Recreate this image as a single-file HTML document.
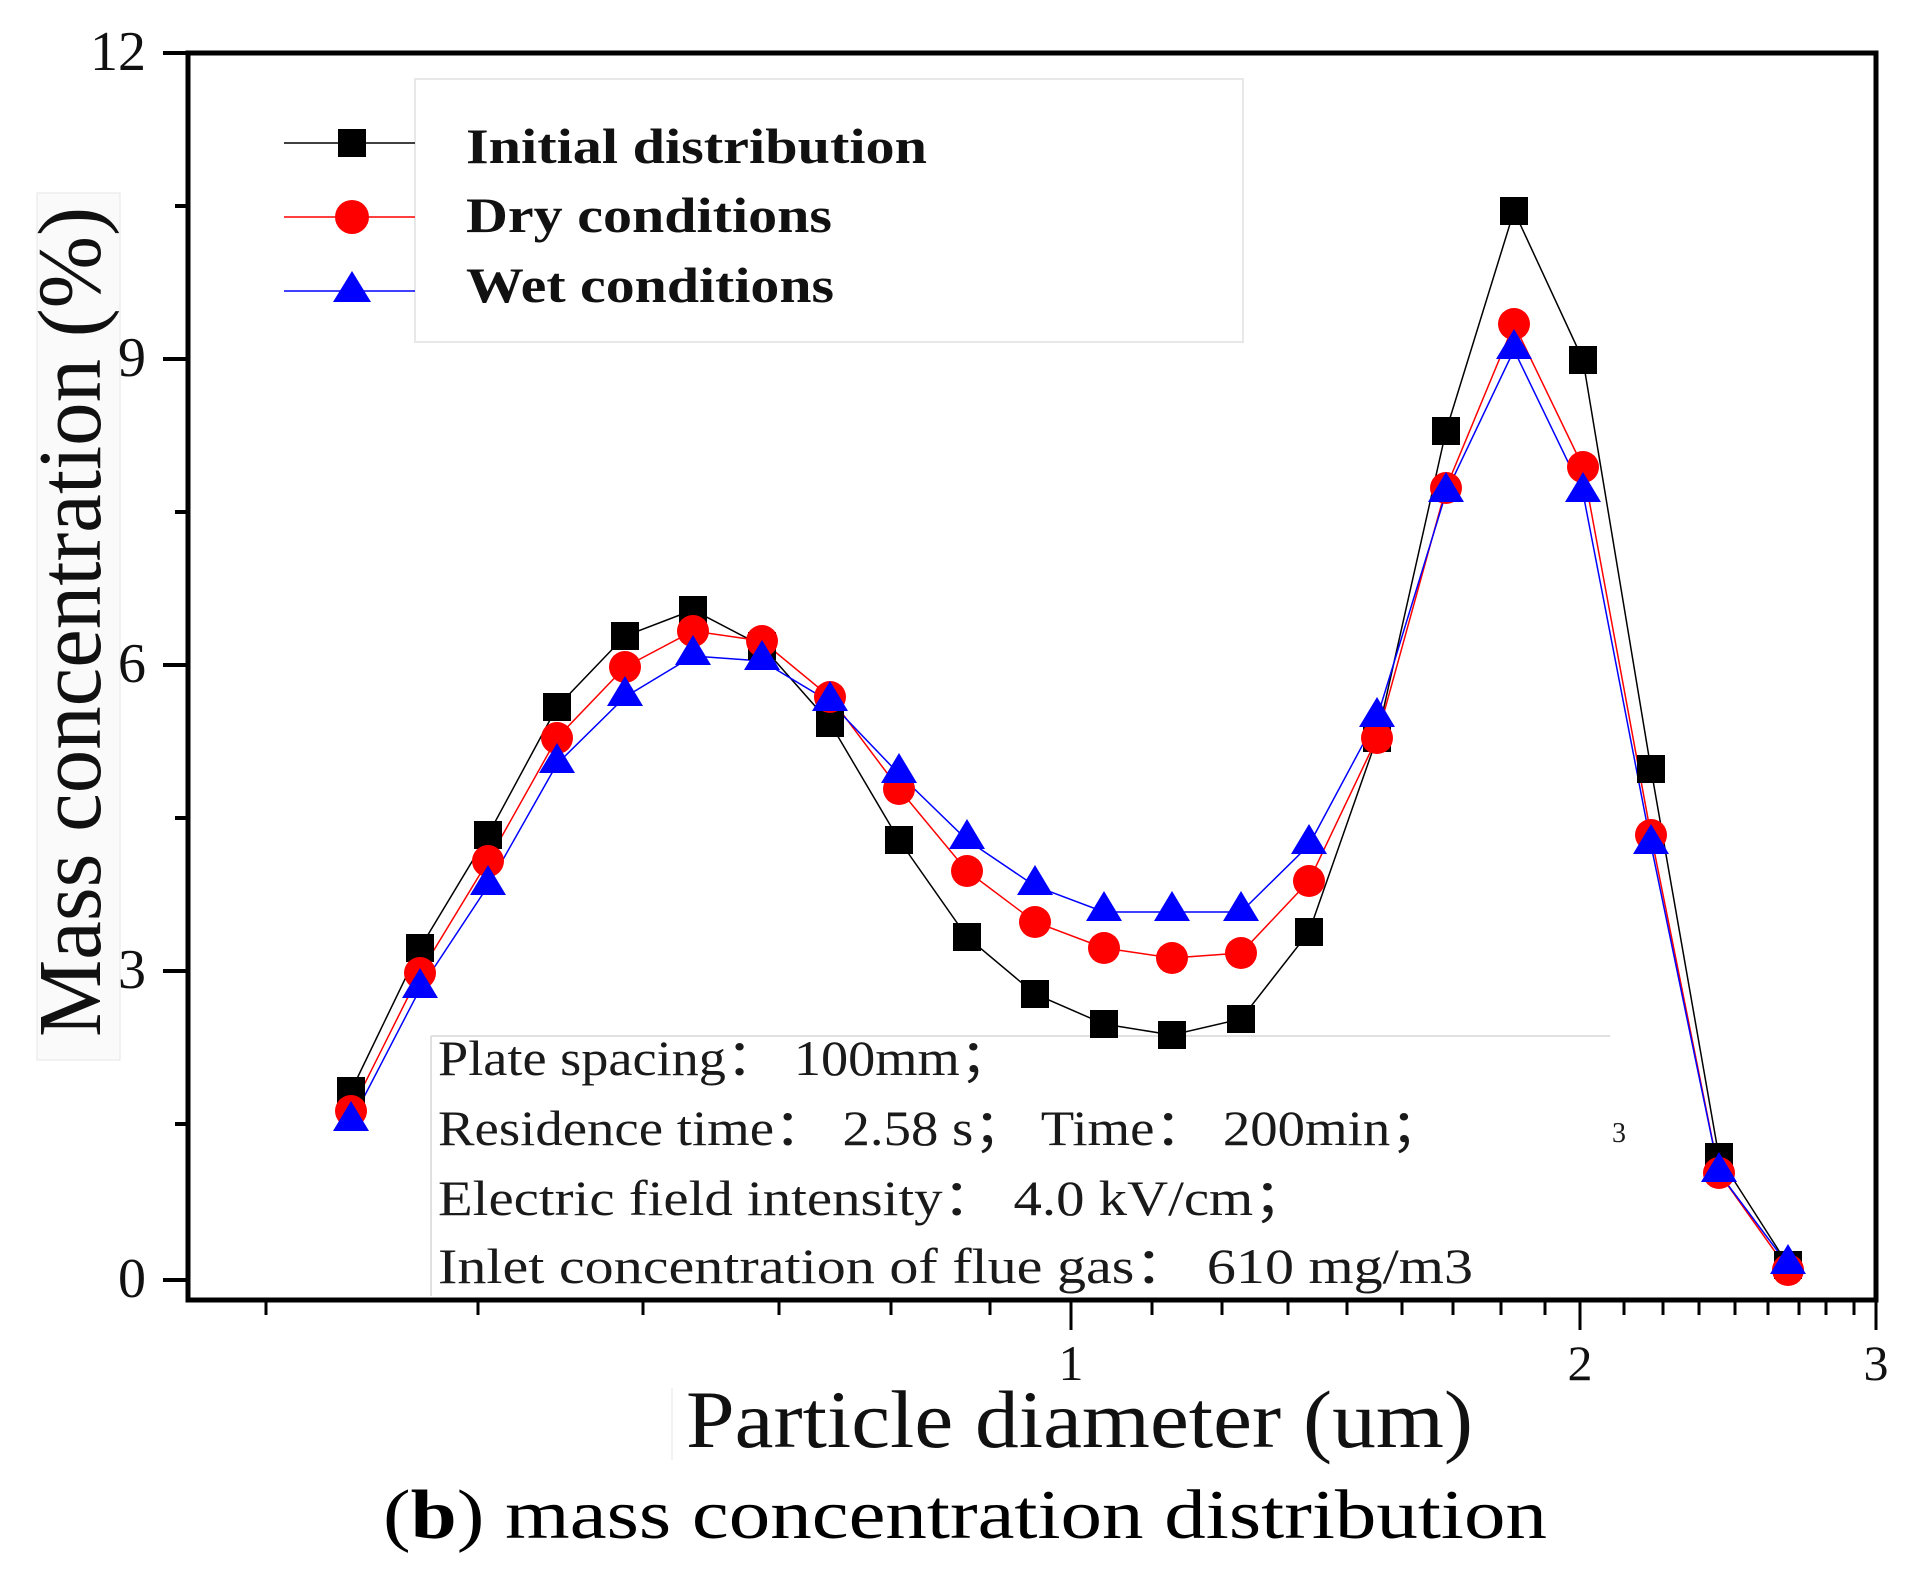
<!DOCTYPE html>
<html><head><meta charset="utf-8"><style>
html,body{margin:0;padding:0;background:#fff;}
svg{display:block;}
</style></head><body>
<svg width="1920" height="1586" viewBox="0 0 1920 1586" xmlns="http://www.w3.org/2000/svg" font-family="'Liberation Serif', serif">
<rect width="1920" height="1586" fill="#fff"/>
<rect x="37" y="193" width="83" height="867" fill="#fafafa" stroke="#e6e6e6" stroke-width="1"/>
<text transform="translate(100,622) rotate(-90)" font-size="90" text-anchor="middle" textLength="830" lengthAdjust="spacingAndGlyphs" fill="#111">Mass concentration (%)</text>
<rect x="188" y="53" width="1688" height="1247" fill="none" stroke="#000" stroke-width="5"/>
<g stroke="#000" stroke-width="4">
<line x1="163" y1="53" x2="188" y2="53"/><line x1="175" y1="206" x2="188" y2="206"/>
<line x1="163" y1="359" x2="188" y2="359"/><line x1="175" y1="512" x2="188" y2="512"/>
<line x1="163" y1="665" x2="188" y2="665"/><line x1="175" y1="818" x2="188" y2="818"/>
<line x1="163" y1="971" x2="188" y2="971"/><line x1="175" y1="1124" x2="188" y2="1124"/>
<line x1="163" y1="1280" x2="188" y2="1280"/>
</g>
<g font-size="56" text-anchor="end" fill="#111">
<text x="146" y="70">12</text><text x="146" y="376">9</text><text x="146" y="682">6</text><text x="146" y="988">3</text><text x="146" y="1297">0</text>
</g>
<g stroke="#000" stroke-width="3">
<line x1="266" y1="1300" x2="266" y2="1315"/><line x1="478" y1="1300" x2="478" y2="1315"/><line x1="643" y1="1300" x2="643" y2="1315"/><line x1="779" y1="1300" x2="779" y2="1315"/><line x1="891" y1="1300" x2="891" y2="1315"/><line x1="990" y1="1300" x2="990" y2="1315"/>
<line x1="1071" y1="1300" x2="1071" y2="1330"/>
<line x1="1152" y1="1300" x2="1152" y2="1315"/><line x1="1222" y1="1300" x2="1222" y2="1315"/><line x1="1288" y1="1300" x2="1288" y2="1315"/><line x1="1347" y1="1300" x2="1347" y2="1315"/><line x1="1402" y1="1300" x2="1402" y2="1315"/><line x1="1453" y1="1300" x2="1453" y2="1315"/><line x1="1501" y1="1300" x2="1501" y2="1315"/><line x1="1545" y1="1300" x2="1545" y2="1315"/>
<line x1="1580" y1="1300" x2="1580" y2="1330"/>
<line x1="1624" y1="1300" x2="1624" y2="1315"/><line x1="1663" y1="1300" x2="1663" y2="1315"/><line x1="1699" y1="1300" x2="1699" y2="1315"/><line x1="1735" y1="1300" x2="1735" y2="1315"/><line x1="1768" y1="1300" x2="1768" y2="1315"/><line x1="1799" y1="1300" x2="1799" y2="1315"/><line x1="1826" y1="1300" x2="1826" y2="1315"/><line x1="1854" y1="1300" x2="1854" y2="1315"/>
<line x1="1876" y1="1300" x2="1876" y2="1330"/>
</g>
<g font-size="50" text-anchor="middle" fill="#111">
<text x="1071" y="1380">1</text><text x="1580" y="1380">2</text><text x="1876" y="1380">3</text>
</g>
<line x1="672" y1="1388" x2="672" y2="1460" stroke="#e6e6e6" stroke-width="1"/>
<text x="686" y="1447" font-size="82" textLength="787" lengthAdjust="spacingAndGlyphs" fill="#111">Particle  diameter (um)</text>
<text x="383" y="1538" font-size="70" textLength="1164" lengthAdjust="spacingAndGlyphs" fill="#000">(<tspan font-weight="bold">b</tspan>) mass concentration distribution</text>
<rect x="415" y="79" width="828" height="263" fill="#fff" stroke="#e8e8e8" stroke-width="2"/>
<line x1="284" y1="143" x2="415" y2="143" stroke="#000" stroke-width="1.5"/>
<rect x="338" y="129" width="28" height="28" fill="#000"/>
<line x1="284" y1="217" x2="415" y2="217" stroke="#f00" stroke-width="1.5"/>
<circle cx="352" cy="217" r="17" fill="#f00"/>
<line x1="284" y1="291" x2="415" y2="291" stroke="#00f" stroke-width="1.5"/>
<polygon points="352,271 371,302 333,302" fill="#00f"/>
<g font-size="50" font-weight="bold" fill="#111">
<text x="466" y="163" textLength="461" lengthAdjust="spacingAndGlyphs">Initial distribution</text>
<text x="466" y="232" textLength="366" lengthAdjust="spacingAndGlyphs">Dry conditions</text>
<text x="466" y="302" textLength="368" lengthAdjust="spacingAndGlyphs">Wet conditions</text>
</g>
<line x1="431" y1="1036" x2="1610" y2="1036" stroke="#e0e0e0" stroke-width="2"/>
<line x1="431" y1="1036" x2="431" y2="1296" stroke="#e0e0e0" stroke-width="2"/>
<g font-size="50" fill="#1a1a1a">
<text x="438" y="1075" textLength="576" lengthAdjust="spacingAndGlyphs">Plate spacing：  100mm；</text>
<text x="438" y="1145" textLength="1007" lengthAdjust="spacingAndGlyphs">Residence time：  2.58 s；  Time：  200min；</text>
<text x="438" y="1215" textLength="872" lengthAdjust="spacingAndGlyphs">Electric field intensity：  4.0 kV/cm；</text>
<text x="438" y="1283" textLength="1035" lengthAdjust="spacingAndGlyphs">Inlet concentration of flue gas：  610 mg/m3</text>
<text x="1612" y="1142" font-size="28">3</text>
</g>
<polyline fill="none" stroke="#000" stroke-width="1.5" points="351,1091 420,948 488,835 557,707 625,636 693,610 762,646 830,723 899,840 967,937 1035,994 1104,1024 1172,1035 1241,1019 1309,932 1377,738 1446,431 1514,211 1583,360 1651,769 1719,1157 1788,1265"/>
<polyline fill="none" stroke="#f00" stroke-width="1.5" points="351,1111 420,973 488,861 557,738 625,667 693,631 762,641 830,697 899,789 967,871 1035,922 1104,948 1172,958 1241,953 1309,881 1377,738 1446,488 1514,324 1583,467 1651,835 1719,1173 1788,1270"/>
<polyline fill="none" stroke="#00f" stroke-width="1.5" points="351,1122 420,989 488,886 557,764 625,697 693,656 762,661 830,702 899,774 967,840 1035,886 1104,912 1172,912 1241,912 1309,845 1377,718 1446,493 1514,350 1583,493 1651,845 1719,1173 1788,1265"/>
<g fill="#000">
<rect x="337" y="1077" width="28" height="28"/><rect x="406" y="934" width="28" height="28"/><rect x="474" y="821" width="28" height="28"/><rect x="543" y="693" width="28" height="28"/><rect x="611" y="622" width="28" height="28"/><rect x="679" y="596" width="28" height="28"/><rect x="748" y="632" width="28" height="28"/><rect x="816" y="709" width="28" height="28"/><rect x="885" y="826" width="28" height="28"/><rect x="953" y="923" width="28" height="28"/><rect x="1021" y="980" width="28" height="28"/><rect x="1090" y="1010" width="28" height="28"/><rect x="1158" y="1021" width="28" height="28"/><rect x="1227" y="1005" width="28" height="28"/><rect x="1295" y="918" width="28" height="28"/><rect x="1363" y="724" width="28" height="28"/><rect x="1432" y="417" width="28" height="28"/><rect x="1500" y="197" width="28" height="28"/><rect x="1569" y="346" width="28" height="28"/><rect x="1637" y="755" width="28" height="28"/><rect x="1705" y="1143" width="28" height="28"/><rect x="1774" y="1251" width="28" height="28"/>
</g>
<g fill="#f00">
<circle cx="351" cy="1111" r="16"/><circle cx="420" cy="973" r="16"/><circle cx="488" cy="861" r="16"/><circle cx="557" cy="738" r="16"/><circle cx="625" cy="667" r="16"/><circle cx="693" cy="631" r="16"/><circle cx="762" cy="641" r="16"/><circle cx="830" cy="697" r="16"/><circle cx="899" cy="789" r="16"/><circle cx="967" cy="871" r="16"/><circle cx="1035" cy="922" r="16"/><circle cx="1104" cy="948" r="16"/><circle cx="1172" cy="958" r="16"/><circle cx="1241" cy="953" r="16"/><circle cx="1309" cy="881" r="16"/><circle cx="1377" cy="738" r="16"/><circle cx="1446" cy="488" r="16"/><circle cx="1514" cy="324" r="16"/><circle cx="1583" cy="467" r="16"/><circle cx="1651" cy="835" r="16"/><circle cx="1719" cy="1173" r="16"/><circle cx="1788" cy="1270" r="16"/>
</g>
<g fill="#00f">
<polygon points="351,1101 369,1131 333,1131"/><polygon points="420,968 438,998 402,998"/><polygon points="488,865 506,895 470,895"/><polygon points="557,743 575,773 539,773"/><polygon points="625,676 643,706 607,706"/><polygon points="693,635 711,665 675,665"/><polygon points="762,640 780,670 744,670"/><polygon points="830,681 848,711 812,711"/><polygon points="899,753 917,783 881,783"/><polygon points="967,819 985,849 949,849"/><polygon points="1035,865 1053,895 1017,895"/><polygon points="1104,891 1122,921 1086,921"/><polygon points="1172,891 1190,921 1154,921"/><polygon points="1241,891 1259,921 1223,921"/><polygon points="1309,824 1327,854 1291,854"/><polygon points="1377,697 1395,727 1359,727"/><polygon points="1446,472 1464,502 1428,502"/><polygon points="1514,329 1532,359 1496,359"/><polygon points="1583,472 1601,502 1565,502"/><polygon points="1651,824 1669,854 1633,854"/><polygon points="1719,1152 1737,1182 1701,1182"/><polygon points="1788,1244 1806,1274 1770,1274"/>
</g>
</svg>
</body></html>
